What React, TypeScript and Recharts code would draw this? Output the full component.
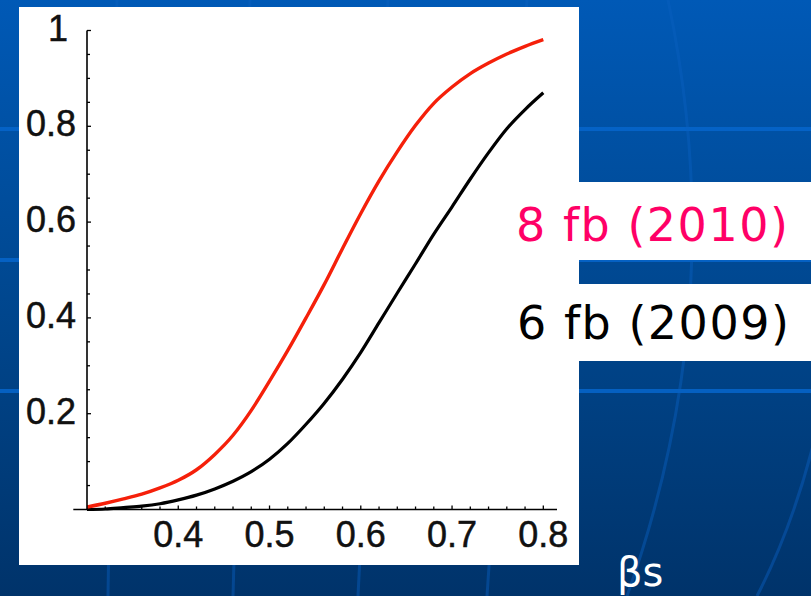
import React from "react";
import { LineChart, Line, XAxis, YAxis, ReferenceLine } from "recharts";

// βs values sampled along the horizontal axis
const betaS = [
  0.3, 0.32, 0.34, 0.36, 0.38, 0.4, 0.42, 0.44, 0.46, 0.48, 0.5, 0.52, 0.54,
  0.56, 0.58, 0.6, 0.62, 0.64, 0.66, 0.68, 0.7, 0.72, 0.74, 0.76, 0.78, 0.8,
];

// probability curve for 8 fb (2010)
const prob8fb = [
  0.005, 0.013, 0.022, 0.032, 0.045, 0.061, 0.083, 0.115, 0.155, 0.207, 0.268,
  0.332, 0.4, 0.47, 0.545, 0.618, 0.686, 0.747, 0.802, 0.848, 0.882, 0.91,
  0.932, 0.951, 0.967, 0.981,
];

// probability curve for 6 fb (2009)
const prob6fb = [
  0.0, 0.001, 0.004, 0.007, 0.012, 0.02, 0.03, 0.043, 0.059, 0.079, 0.105,
  0.138, 0.178, 0.222, 0.272, 0.328, 0.39, 0.452, 0.513, 0.575, 0.632, 0.69,
  0.745, 0.795, 0.835, 0.87,
];

const seriesNames = ["8 fb (2010)", "6 fb (2009)"];
const seriesColors = ["#ff0066", "#000000"];
const axisTitle = "βs";

const xTicks = [
  0.32, 0.34, 0.36, 0.38, 0.4, 0.42, 0.44, 0.46, 0.48, 0.5, 0.52, 0.54, 0.56,
  0.58, 0.6, 0.62, 0.64, 0.66, 0.68, 0.7, 0.72, 0.74, 0.76, 0.78, 0.8,
];
const xTickLabels = ["0.4", "0.5", "0.6", "0.7", "0.8"];

const yTicks = [
  0.05, 0.1, 0.15, 0.2, 0.25, 0.3, 0.35, 0.4, 0.45, 0.5, 0.55, 0.6, 0.65, 0.7,
  0.75, 0.8, 0.85, 0.9, 0.95, 1,
];
const yTickLabels = ["0.2", "0.4", "0.6", "0.8", "1"];

const data = betaS.map((x, i) => ({ x, fb8: prob8fb[i], fb6: prob6fb[i] }));

const tickFont = "'Liberation Sans', Arial, Helvetica, sans-serif";

const fmt = (v: number) => String(Math.round(v * 100) / 100);

const XTick = (props: any) => {
  const { x, y, payload } = props;
  const label = fmt(payload.value);
  const major = xTickLabels.includes(label);
  return (
    <g>
      <line x1={x} x2={x} y1={y} y2={y - (major ? 4 : 3)} stroke="#000" strokeWidth={1.3} />
      {major && (
        <text
          x={x}
          y={y + 37.5}
          textAnchor="middle"
          fontSize={36}
          fontFamily={tickFont}
          fill="#111"
          stroke="#111"
          strokeWidth={0.5}
        >
          {label}
        </text>
      )}
    </g>
  );
};

const YTick = (props: any) => {
  const { x, y, payload } = props;
  const label = fmt(payload.value);
  const major = yTickLabels.includes(label);
  return (
    <g>
      <line x1={x} x2={x + (major ? 4 : 3)} y1={y} y2={y} stroke="#000" strokeWidth={1.3} />
      {major && (
        <text
          x={label === "1" ? x - 19 : x - 11}
          y={y + 10}
          textAnchor="end"
          fontSize={36}
          fontFamily={tickFont}
          fill="#111"
          stroke="#111"
          strokeWidth={0.5}
        >
          {label}
        </text>
      )}
    </g>
  );
};

const Backdrop = () => (
  <svg width={811} height={596} style={{ position: "absolute", left: 0, top: 0 }}>
    <defs>
      <linearGradient id="slideBg" x1="0" y1="0" x2="0" y2="1">
        <stop offset="0" stopColor="#0059b6" />
        <stop offset="0.5" stopColor="#00478f" />
        <stop offset="1" stopColor="#00336a" />
      </linearGradient>
    </defs>
    <rect x={0} y={0} width={811} height={596} fill="url(#slideBg)" />
    {/* globe grid */}
    <g stroke="#0766cc" strokeWidth={4} opacity={0.85}>
      <line x1={0} x2={811} y1={129} y2={129} />
      <line x1={0} x2={811} y1={260} y2={260} />
      <line x1={0} x2={811} y1={391} y2={391} />
    </g>
    <g stroke="#0a60c0" strokeWidth={3} fill="none" opacity={0.45}>
      <path d="M117 0 L108 596" />
      <path d="M250 0 L233 596" />
      <path d="M388 0 L358 596" />
      <path d="M527 0 L487 596" />
      <path d="M668 0 Q732 302 627 596" />
      <path d="M850 120 Q848 420 757 596" />
    </g>
    {/* plot panel */}
    <rect x={19} y={7} width={560} height={558} fill="#ffffff" />
    {/* series label boxes */}
    <rect x={560} y={182} width={260} height={78} fill="#ffffff" />
    <rect x={560} y={284} width={260} height={77} fill="#ffffff" />
    <text
      x={516}
      y={241}
      fontSize={46}
      letterSpacing={1.5}
      fontFamily="'DejaVu Sans', Verdana, sans-serif"
      fill={seriesColors[0]}
    >
      {seriesNames[0]}
    </text>
    <text
      x={517}
      y={339}
      fontSize={46}
      letterSpacing={1.5}
      fontFamily="'DejaVu Sans', Verdana, sans-serif"
      fill={seriesColors[1]}
    >
      {seriesNames[1]}
    </text>
    <text x={617} y={586} fontSize={40} fontFamily="'DejaVu Sans', Verdana, sans-serif" fill="#ffffff">
      {axisTitle}
    </text>
  </svg>
);

export default function App() {
  return (
    <div
      style={{
        position: "absolute",
        left: 0,
        top: 0,
        width: 811,
        height: 596,
        overflow: "hidden",
      }}
    >
      <Backdrop />
      <div style={{ position: "absolute", left: 0, top: 0 }}>
        <LineChart
          width={811}
          height={596}
          data={data}
          margin={{ top: 30.5, right: 254, bottom: 46.5, left: 7 }}
        >
          <XAxis
            dataKey="x"
            type="number"
            domain={[0.3, 0.815]}
            ticks={xTicks}
            interval={0}
            tick={<XTick />}
            tickLine={false}
            axisLine={false}
            tickSize={0}
            tickMargin={0}
            height={40}
            allowDataOverflow
          />
          <YAxis
            type="number"
            domain={[0, 1]}
            ticks={yTicks}
            interval={0}
            tick={<YTick />}
            tickLine={false}
            axisLine={{ stroke: "#000", strokeWidth: 1.6 }}
            tickSize={0}
            tickMargin={0}
            width={80}
          />
          <ReferenceLine
            segment={[
              { x: 0.285, y: 0 },
              { x: 0.815, y: 0 },
            ]}
            ifOverflow="visible"
            stroke="#000"
            strokeWidth={1.6}
          />
          <Line
            dataKey="fb6"
            type="monotone"
            stroke="#000000"
            strokeWidth={3.2}
            dot={false}
            isAnimationActive={false}
          />
          <Line
            dataKey="fb8"
            type="monotone"
            stroke="#f5200a"
            strokeWidth={3.4}
            dot={false}
            isAnimationActive={false}
          />
        </LineChart>
      </div>
    </div>
  );
}
